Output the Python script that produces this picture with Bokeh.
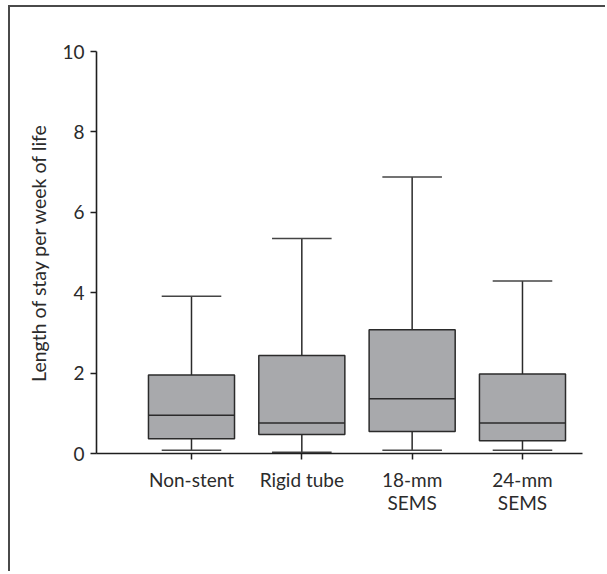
from bokeh.plotting import figure
from bokeh.models import Range1d, FixedTicker, Label, ColumnDataSource
from bokeh.embed import file_html
from bokeh.resources import INLINE

# Length of stay per week of life, by treatment group (box-plot summaries)
groups = ["Non-stent", "Rigid tube", "18-mm\nSEMS", "24-mm\nSEMS"]
whisker_low = [0.08, 0.03, 0.08, 0.08]
q1 = [0.37, 0.47, 0.55, 0.32]
median = [0.95, 0.76, 1.36, 0.76]
q3 = [1.95, 2.44, 3.08, 1.98]
whisker_high = [3.91, 5.35, 6.88, 4.29]
y_ticks = [0, 2, 4, 6, 8, 10]

FONT = "Lato"
INK = "#2b2b2b"
BOX_FILL = "#a8a9ac"
BOX_W = 0.78
CAP_W = 0.54

pos = list(range(1, len(groups) + 1))
src = ColumnDataSource(dict(
    x=pos,
    lo=whisker_low, q1=q1, med=median, q3=q3, hi=whisker_high,
    box_l=[p - BOX_W / 2 for p in pos], box_r=[p + BOX_W / 2 for p in pos],
    cap_l=[p - CAP_W / 2 for p in pos], cap_r=[p + CAP_W / 2 for p in pos],
))

p = figure(
    width=597, height=566,
    x_range=Range1d(0.139, 4.544), y_range=Range1d(0, 10),
    output_backend="svg", toolbar_location=None,
    min_border_left=86, min_border_right=25,
    min_border_top=44, min_border_bottom=120,
    background_fill_color="white", border_fill_color="white",
    outline_line_color=None,
    styles={"margin-left": "8px", "margin-top": "5px",
            "border-left": "2px solid #4a4a4a", "border-top": "2px solid #4a4a4a"},
)
p.grid.visible = False

# whiskers and caps
p.segment(x0="x", y0="q3", x1="x", y1="hi", source=src, line_color=INK, line_width=1.5)
p.segment(x0="x", y0="lo", x1="x", y1="q1", source=src, line_color=INK, line_width=1.5)
p.segment(x0="cap_l", y0="hi", x1="cap_r", y1="hi", source=src, line_color="#444444", line_width=1.5)
p.segment(x0="cap_l", y0="lo", x1="cap_r", y1="lo", source=src, line_color="#444444", line_width=1.5)

# boxes and medians
p.quad(left="box_l", right="box_r", bottom="q1", top="q3", source=src,
       fill_color=BOX_FILL, line_color=INK, line_width=1.5)
p.segment(x0="box_l", y0="med", x1="box_r", y1="med", source=src, line_color=INK, line_width=1.5)

# axes
for ax in (p.xaxis[0], p.yaxis[0]):
    ax.axis_line_color = "#1e1e1e"
    ax.axis_line_width = 1.6
    ax.major_tick_line_color = "#1e1e1e"
    ax.major_tick_line_width = 1.5
    ax.major_tick_in = 0
    ax.major_tick_out = 6
    ax.minor_tick_line_color = None
    ax.major_label_text_font = FONT
    ax.major_label_text_color = INK

p.yaxis.ticker = FixedTicker(ticks=y_ticks)
p.yaxis.major_label_text_font_size = "19px"
p.yaxis.major_label_standoff = 6
p.yaxis.axis_label = "Length of stay per week of life"
p.yaxis.axis_label_text_font = FONT
p.yaxis.axis_label_text_font_style = "normal"
p.yaxis.axis_label_text_font_size = "19.5px"
p.yaxis.axis_label_text_color = INK
p.yaxis.axis_label_standoff = 9

p.xaxis.ticker = FixedTicker(ticks=pos)
p.xaxis.major_label_overrides = {x: g for x, g in zip(pos, groups)}
p.xaxis.major_label_text_font_size = "19px"
p.xaxis.major_label_standoff = 8
p.xaxis.major_label_text_line_height = 1.0

# x-axis title, centred under the groups
p.add_layout(Label(x=(pos[0] + pos[-1]) / 2, y=-1.78, text="Treatment group",
                   text_font=FONT, text_font_size="19px", text_color=INK,
                   text_align="center", text_baseline="top"))

open("out.html", "w").write(file_html(p, INLINE))
